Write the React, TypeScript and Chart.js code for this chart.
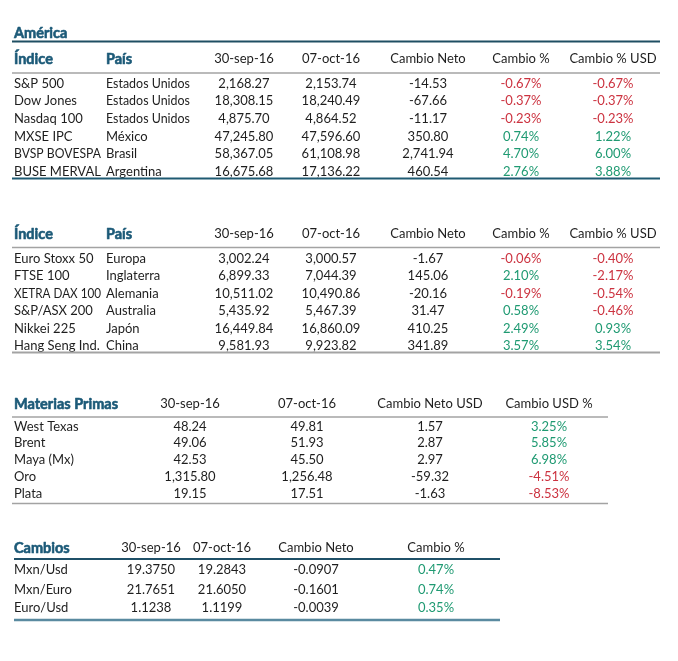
import React, { useEffect, useRef } from "react";
import { Chart, registerables } from "chart.js";

Chart.register(...registerables);

// ---------- DATA ----------
const americaHeaders = ["Índice", "País", "30-sep-16", "07-oct-16", "Cambio Neto", "Cambio %", "Cambio % USD"];
const americaIndex = ["S&P 500", "Dow Jones", "Nasdaq 100", "MXSE IPC", "BVSP BOVESPA", "BUSE MERVAL"];
const americaCountry = ["Estados Unidos", "Estados Unidos", "Estados Unidos", "México", "Brasil", "Argentina"];
const americaSep = ["2,168.27", "18,308.15", "4,875.70", "47,245.80", "58,367.05", "16,675.68"];
const americaOct = ["2,153.74", "18,240.49", "4,864.52", "47,596.60", "61,108.98", "17,136.22"];
const americaNet = ["-14.53", "-67.66", "-11.17", "350.80", "2,741.94", "460.54"];
const americaPct = ["-0.67%", "-0.37%", "-0.23%", "0.74%", "4.70%", "2.76%"];
const americaPctUsd = ["-0.67%", "-0.37%", "-0.23%", "1.22%", "6.00%", "3.88%"];

const worldHeaders = ["Índice", "País", "30-sep-16", "07-oct-16", "Cambio Neto", "Cambio %", "Cambio % USD"];
const worldIndex = ["Euro Stoxx 50", "FTSE 100", "XETRA DAX 100", "S&P/ASX 200", "Nikkei 225", "Hang Seng Ind."];
const worldCountry = ["Europa", "Inglaterra", "Alemania", "Australia", "Japón", "China"];
const worldSep = ["3,002.24", "6,899.33", "10,511.02", "5,435.92", "16,449.84", "9,581.93"];
const worldOct = ["3,000.57", "7,044.39", "10,490.86", "5,467.39", "16,860.09", "9,923.82"];
const worldNet = ["-1.67", "145.06", "-20.16", "31.47", "410.25", "341.89"];
const worldPct = ["-0.06%", "2.10%", "-0.19%", "0.58%", "2.49%", "3.57%"];
const worldPctUsd = ["-0.40%", "-2.17%", "-0.54%", "-0.46%", "0.93%", "3.54%"];

const commHeaders = ["Materias Primas", "30-sep-16", "07-oct-16", "Cambio Neto USD", "Cambio USD %"];
const commName = ["West Texas", "Brent", "Maya (Mx)", "Oro", "Plata"];
const commSep = ["48.24", "49.06", "42.53", "1,315.80", "19.15"];
const commOct = ["49.81", "51.93", "45.50", "1,256.48", "17.51"];
const commNet = ["1.57", "2.87", "2.97", "-59.32", "-1.63"];
const commPct = ["3.25%", "5.85%", "6.98%", "-4.51%", "-8.53%"];

const fxHeaders = ["Cambios", "30-sep-16", "07-oct-16", "Cambio Neto", "Cambio %"];
const fxName = ["Mxn/Usd", "Mxn/Euro", "Euro/Usd"];
const fxSep = ["19.3750", "21.7651", "1.1238"];
const fxOct = ["19.2843", "21.6050", "1.1199"];
const fxNet = ["-0.0907", "-0.1601", "-0.0039"];
const fxPct = ["0.47%", "0.74%", "0.35%"];

const americaTitle = "América";

// ---------- LAYOUT / STYLE ----------
const W = 678;
const H = 661;
const FONT = "Lato, 'Open Sans', sans-serif";
const TEAL = "#1c5a78";
const TEXT = "#1e1e1e";
const RED = "#cc3340";
const GREEN = "#1f9a72";
const GRAY = "#a3a3a3";

type Col = { x: number; align: CanvasTextAlign; maxW?: number };

const s1Cols: Col[] = [
  { x: 14, align: "left", maxW: 87 }, { x: 106, align: "left", maxW: 84 }, { x: 244, align: "center" },
  { x: 331, align: "center" }, { x: 428, align: "center" }, { x: 521, align: "center" }, { x: 613, align: "center" },
];
const s3Cols: Col[] = [
  { x: 14, align: "left" }, { x: 190, align: "center" }, { x: 307, align: "center" },
  { x: 430, align: "center" }, { x: 549, align: "center" },
];
const s4Cols: Col[] = [
  { x: 14, align: "left" }, { x: 151, align: "center" }, { x: 222, align: "center" },
  { x: 316, align: "center" }, { x: 436, align: "center" },
];

const pctColor = (v: string) => (v.trim().startsWith("-") ? RED : GREEN);

type Section = {
  title?: string;
  titleY?: number;
  titleLine?: number;
  headers: string[];
  boldHeaders: number[];
  headerY: number;
  headerLineY: number;
  headerLineColor: string;
  headerLineW: number;
  rowsY: number[];
  cols: Col[];
  columns: string[][];
  pctCols: number[];
  bottomY: number;
  bottomColor: string;
  bottomW: number;
  x0: number;
  x1: number;
};

const sections: Section[] = [
  {
    title: americaTitle, titleY: 33.5, titleLine: 41.5,
    headers: americaHeaders, boldHeaders: [0, 1], headerY: 59, headerLineY: 73,
    headerLineColor: GRAY, headerLineW: 1.5,
    rowsY: [83.5, 101, 118.5, 136.5, 154, 171.5], cols: s1Cols,
    columns: [americaIndex, americaCountry, americaSep, americaOct, americaNet, americaPct, americaPctUsd],
    pctCols: [5, 6], bottomY: 178.5, bottomColor: "#1f5a72", bottomW: 1.8, x0: 12, x1: 660,
  },
  {
    headers: worldHeaders, boldHeaders: [0, 1], headerY: 234, headerLineY: 247.5,
    headerLineColor: GRAY, headerLineW: 1.5,
    rowsY: [258.5, 276, 293.5, 311, 328.5, 346], cols: s1Cols,
    columns: [worldIndex, worldCountry, worldSep, worldOct, worldNet, worldPct, worldPctUsd],
    pctCols: [5, 6], bottomY: 352.5, bottomColor: GRAY, bottomW: 1.8, x0: 12, x1: 660,
  },
  {
    headers: commHeaders, boldHeaders: [0], headerY: 404, headerLineY: 417,
    headerLineColor: GRAY, headerLineW: 1.5,
    rowsY: [426.7, 443.3, 460, 476.7, 494], cols: s3Cols,
    columns: [commName, commSep, commOct, commNet, commPct],
    pctCols: [4], bottomY: 503.5, bottomColor: GRAY, bottomW: 1.5, x0: 12, x1: 608,
  },
  {
    headers: fxHeaders, boldHeaders: [0], headerY: 548, headerLineY: 559,
    headerLineColor: "#1f5068", headerLineW: 1.8,
    rowsY: [570, 590, 608], cols: s4Cols,
    columns: [fxName, fxSep, fxOct, fxNet, fxPct],
    pctCols: [4], bottomY: 620, bottomColor: "#5a8aa0", bottomW: 2.5, x0: 14, x1: 500,
  },
];

const tablePlugin = {
  id: "tablePlugin",
  afterDraw(chart: any) {
    const ctx: CanvasRenderingContext2D = chart.ctx;
    const sx = chart.scales.x;
    const sy = chart.scales.y;
    const px = (v: number) => sx.getPixelForValue(v);
    const py = (v: number) => sy.getPixelForValue(v);
    const line = (x0: number, x1: number, y: number, color: string, w: number) => {
      ctx.save();
      ctx.strokeStyle = color;
      ctx.lineWidth = w;
      ctx.beginPath();
      ctx.moveTo(px(x0), py(y));
      ctx.lineTo(px(x1), py(y));
      ctx.stroke();
      ctx.restore();
    };
    const text = (t: string, c: Col, y: number, heavy = false) => {
      ctx.textAlign = c.align;
      if (c.maxW && !heavy) ctx.fillText(t, px(c.x), py(y), c.maxW);
      else ctx.fillText(t, px(c.x), py(y));
      if (heavy) {
        ctx.save();
        ctx.strokeStyle = ctx.fillStyle as string;
        ctx.lineWidth = 0.6;
        ctx.lineJoin = "round";
        ctx.strokeText(t, px(c.x), py(y));
        ctx.restore();
      }
    };
    ctx.save();
    ctx.textBaseline = "middle";
    for (const s of sections) {
      if (s.title) {
        ctx.font = `bold 14.5px ${FONT}`;
        ctx.fillStyle = TEAL;
        text(s.title, { x: 14, align: "left" }, s.titleY!, true);
        line(s.x0, s.x1, s.titleLine!, "#1f4f63", 2);
      }
      s.headers.forEach((h, i) => {
        const c = s.cols[i];
        const bold = s.boldHeaders.includes(i);
        ctx.font = bold ? `bold 14.5px ${FONT}` : `13px ${FONT}`;
        ctx.fillStyle = bold ? TEAL : TEXT;
        text(h, c, s.headerY, bold);
      });
      line(s.x0, s.x1, s.headerLineY, s.headerLineColor, s.headerLineW);
      s.columns.forEach((col, ci) => {
        const c = s.cols[ci];
        col.forEach((v, ri) => {
          ctx.font = `13px ${FONT}`;
          ctx.fillStyle = s.pctCols.includes(ci) ? pctColor(v) : TEXT;
          text(v, c, s.rowsY[ri]);
        });
      });
      line(s.x0, s.x1, s.bottomY, s.bottomColor, s.bottomW);
    }
    ctx.restore();
  },
};

export default function App() {
  const ref = useRef<HTMLCanvasElement | null>(null);
  useEffect(() => {
    if (!ref.current) return;
    const chart = new Chart(ref.current, {
      type: "scatter",
      data: { datasets: [{ data: [], pointRadius: 0 }] },
      options: {
        animation: false,
        responsive: false,
        maintainAspectRatio: false,
        layout: { padding: 0 },
        plugins: { legend: { display: false }, tooltip: { enabled: false } },
        scales: {
          x: { type: "linear", min: 0, max: W, display: false },
          y: { type: "linear", min: 0, max: H, reverse: true, display: false },
        },
      },
      plugins: [tablePlugin],
    });
    return () => chart.destroy();
  }, []);
  return (
    <div style={{ position: "absolute", left: 0, top: 0, width: W, height: H, background: "#ffffff" }}>
      <canvas ref={ref} width={W} height={H} style={{ width: W, height: H, display: "block" }} />
    </div>
  );
}
